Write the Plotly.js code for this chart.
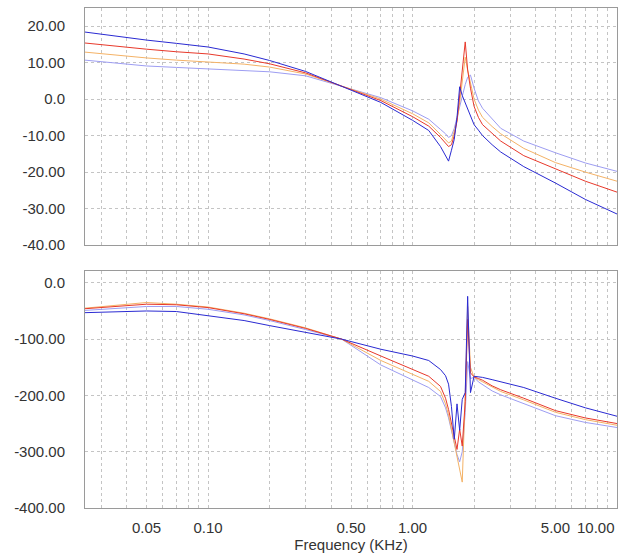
<!DOCTYPE html>
<html>
<head>
<meta charset="utf-8">
<script src="https://cdn.plot.ly/plotly-3.0.1.min.js"></script>
<style>html,body{margin:0;padding:0;background:#fff;}#chart{width:625px;height:556px;}</style>
</head>
<body>
<div id="chart"></div>
<script>
// Frequency (KHz)
const freqKHz = [0.025, 0.035, 0.05, 0.07, 0.1, 0.15, 0.2, 0.3, 0.45, 0.7, 1.0, 1.2, 1.37, 1.45, 1.5, 1.55, 1.6, 1.65, 1.7, 1.75, 1.81, 1.86, 1.92, 2.0, 2.1, 2.2, 2.45, 2.7, 3.5, 5, 7, 10];

// Top panel (magnitude)
const magBlue   = [18.4, 17.3, 16.2, 15.3, 14.3, 12.4, 10.6, 7.6, 3.6, -0.9, -5.8, -8.6, -13, -15.5, -17, -14, -11, -5, 3.4, 1, -1, -3, -5, -7, -8.5, -10, -12.5, -14.5, -18.5, -23, -27.5, -31.5];
const magRed    = [15.4, 14.5, 13.7, 13.0, 12.4, 11.0, 9.7, 7.2, 3.6, -0.4, -4.8, -7.4, -10.5, -12, -13, -12.5, -10, -6, 1, 8, 15.7, 8, 3, -2, -5, -7, -9.5, -11.5, -15.5, -19.2, -22.5, -25.5];
const magOrange = [12.9, 12.1, 11.3, 10.7, 10.2, 9.6, 8.8, 6.9, 3.6, 0, -4.0, -6.5, -9.7, -11, -12, -11.5, -9, -6, -1, 5, 11.5, 8, 4.5, 0, -3, -5, -7.5, -9.5, -13.5, -17.4, -20, -22.5];
const magLight  = [10.7, 9.9, 9.1, 8.7, 8.3, 7.9, 7.5, 6.4, 3.6, 0.4, -3.2, -5.5, -8.3, -9.5, -10.5, -10, -8, -5, -2, 1, 4, 6, 6.6, 3, -0.5, -2.5, -5.5, -8, -11.5, -14.7, -17.5, -19.8];

// Bottom panel (phase)
const phaseBlue   = [-53, -51, -50, -51, -58, -67, -76, -88, -100, -118, -130, -138, -154, -165, -180, -220, -278, -215, -262, -207, -195, -24, -195, -166, -167, -168, -172, -176, -186, -205, -222, -237];
const phaseRed    = [-46, -42, -38, -39, -44, -55, -65, -81, -100, -130, -153, -166, -184, -205, -225, -250, -275, -296, -260, -290, -211, -65, -160, -167, -170, -173, -183, -190, -205, -227, -240, -250];
const phaseOrange = [-45, -40, -35, -38, -43, -54, -64, -80, -100, -138, -162, -175, -193, -215, -235, -260, -285, -310, -335, -354, -200, -42, -150, -168, -172, -176, -186, -193, -208, -230, -243, -253];
const phaseLight  = [-49, -46, -42, -42, -47, -57, -67, -83, -100, -146, -172, -186, -202, -222, -240, -262, -285, -305, -318, -300, -230, -140, -170, -168, -176, -181, -192, -199, -214, -236, -248, -257];

// Tick labels
const xTickVals = [0.05, 0.1, 0.5, 1, 5];
const xTickText = ['0.05', '0.10', '0.50', '1.00', '5.00'];
const xLastTickVal = 10;
const xLastTickText = '10.00';
const xGridVals = [0.03, 0.04, 0.06, 0.07, 0.08, 0.09, 0.2, 0.3, 0.4, 0.6, 0.7, 0.8, 0.9, 2, 3, 4, 6, 7, 8, 9, 10];
const magTickVals = [20, 10, 0, -10, -20, -30, -40];
const magTickText = ['20.00', '10.00', '0.0', '-10.00', '-20.00', '-30.00', '-40.00'];
const phaseTickVals = [0, -100, -200, -300, -400];
const phaseTickText = ['0.0', '-100.00', '-200.00', '-300.00', '-400.00'];

const colors = {blue: '#2a2ad2', red: '#e8392b', orange: '#f4b266', light: '#9d9df2'};

function tr(y, color, xa, ya) {
  return {x: freqKHz, y: y, type: 'scatter', mode: 'lines', xaxis: xa, yaxis: ya,
          line: {color: color, width: 1}, hoverinfo: 'skip', showlegend: false};
}

const data = [
  tr(magLight, colors.light, 'x', 'y'),
  tr(magOrange, colors.orange, 'x', 'y'),
  tr(magRed, colors.red, 'x', 'y'),
  tr(magBlue, colors.blue, 'x', 'y'),
  tr(phaseLight, colors.light, 'x2', 'y2'),
  tr(phaseOrange, colors.orange, 'x2', 'y2'),
  tr(phaseRed, colors.red, 'x2', 'y2'),
  tr(phaseBlue, colors.blue, 'x2', 'y2')
];

const xRange = [Math.log10(0.025), Math.log10(10)];
const font = {family: 'Liberation Sans, Arial, sans-serif', size: 15, color: '#333'};
const gridCol = '#c4c4c4';

function xaxis(showLabels, anchor) {
  return {
    type: 'log', range: xRange, anchor: anchor,
    tickmode: 'array', tickvals: xTickVals, ticktext: xTickText,
    showticklabels: showLabels, ticks: '', ticklabelstandoff: 6,
    showgrid: true, gridcolor: gridCol, griddash: 'dot', gridwidth: 1,
    minor: {tickmode: 'array', tickvals: xGridVals, showgrid: true, gridcolor: gridCol, griddash: 'dot', gridwidth: 1, ticks: ''},
    showline: true, mirror: true, linecolor: '#9a9a9a', linewidth: 1,
    zeroline: false, tickfont: font
  };
}

const layout = {
  width: 625, height: 556,
  margin: {l: 85, r: 8, t: 8, b: 48},
  paper_bgcolor: '#fff', plot_bgcolor: '#fff',
  font: font,
  xaxis: Object.assign(xaxis(false, 'y'), {domain: [0, 1]}),
  yaxis: {
    domain: [0.526, 1], range: [-40, 25], anchor: 'x',
    tickmode: 'array', tickvals: magTickVals, ticktext: magTickText,
    ticks: '', ticklabelstandoff: 16,
    showgrid: true, gridcolor: gridCol, griddash: 'dot', gridwidth: 1,
    showline: true, mirror: true, linecolor: '#9a9a9a', linewidth: 1,
    zeroline: false, tickfont: font
  },
  xaxis2: Object.assign(xaxis(true, 'y2'), {
    domain: [0, 1],
    title: {text: 'Frequency (KHz)', font: font, standoff: 2}
  }),
  yaxis2: {
    domain: [0, 0.474], range: [-400, 21], anchor: 'x2',
    tickmode: 'array', tickvals: phaseTickVals, ticktext: phaseTickText,
    ticks: '', ticklabelstandoff: 16,
    showgrid: true, gridcolor: gridCol, griddash: 'dot', gridwidth: 1,
    showline: true, mirror: true, linecolor: '#9a9a9a', linewidth: 1,
    zeroline: false, tickfont: font
  },
  annotations: [{
    text: xLastTickText, xref: 'x2', yref: 'y2 domain',
    x: Math.log10(xLastTickVal), y: 0, xanchor: 'right', yanchor: 'top',
    yshift: -9, showarrow: false, font: font
  }]
};

Plotly.newPlot('chart', data, layout, {staticPlot: true, displayModeBar: false});
</script>
</body>
</html>
